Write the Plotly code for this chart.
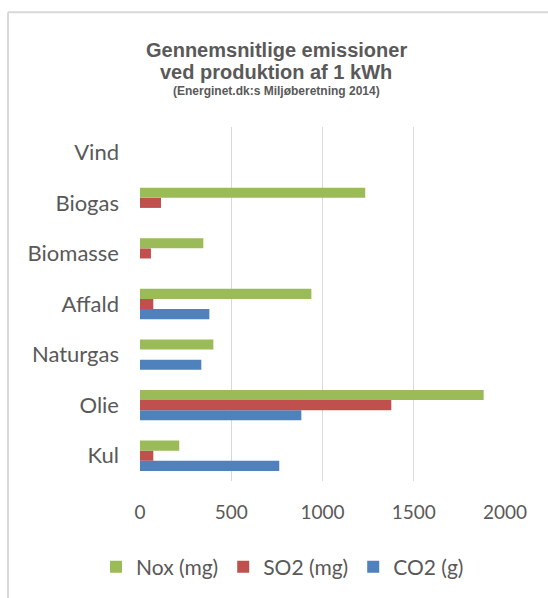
import plotly.graph_objects as go

categories = ["Kul", "Olie", "Naturgas", "Affald", "Biomasse", "Biogas", "Vind"]
nox_mg = [215, 1883, 402, 939, 347, 1234, 0]
so2_mg = [73, 1377, 0, 73, 60, 115, 0]
co2_g = [763, 884, 336, 380, 0, 0, 0]

x_ticks = [0, 500, 1000, 1500, 2000]

W, H = 548, 598
L, R, T, B = 140, 505, 127, 482
pw, ph = R - L, B - T

def px(x):
    return (x - L) / pw

def py(y):
    return (B - y) / ph

green = "#9BBB59"
red = "#C0504D"
blue = "#4F81BD"
txt = "#595959"
font_fam = "Lato, 'Open Sans', sans-serif"

fig = go.Figure()
fig.add_trace(go.Bar(y=categories, x=co2_g, orientation="h", name="CO2 (g)",
                     marker=dict(color=blue, line=dict(width=0))))
fig.add_trace(go.Bar(y=categories, x=so2_mg, orientation="h", name="SO2 (mg)",
                     marker=dict(color=red, line=dict(width=0))))
fig.add_trace(go.Bar(y=categories, x=nox_mg, orientation="h", name="Nox (mg)",
                     marker=dict(color=green, line=dict(width=0))))

fig.update_layout(
    width=W, height=H,
    margin=dict(l=L, r=W - R, t=T, b=H - B),
    paper_bgcolor="white", plot_bgcolor="white",
    barmode="group", bargap=0.4, bargroupgap=0,
    showlegend=True,
    legend=dict(orientation="h", traceorder="reversed", x=px(96), xanchor="left",
                y=py(567), yanchor="middle", font=dict(family=font_fam, size=21, color=txt),
                itemwidth=30, tracegroupgap=0, bgcolor="rgba(0,0,0,0)"),
    xaxis=dict(range=[0, 2000], tickvals=x_ticks, showgrid=True, gridcolor="#d9d9d9",
               gridwidth=1, zeroline=False, showline=False, ticks="",
               tickfont=dict(family=font_fam, size=19, color=txt), ticklabelstandoff=18),
    yaxis=dict(type="category", categoryorder="array", categoryarray=categories,
               showgrid=False, zeroline=False, showline=False, ticks="",
               tickfont=dict(family=font_fam, size=22, color=txt), ticklabelstandoff=20),
    font=dict(family=font_fam, color=txt),
)

ann = [
    ("<b>Gennemsnitlige emissioner</b>", 50, 20),
    ("<b>ved produktion af 1 kWh</b>", 72, 20),
    ("<b>(Energinet.dk:s Miljøberetning 2014)</b>", 91, 12),
]
for text, yy, size in ann:
    fig.add_annotation(text=text, x=px(276), y=py(yy), xref="paper", yref="paper",
                       showarrow=False, xanchor="center", yanchor="middle",
                       font=dict(family="'Liberation Sans', Arial, sans-serif", size=size, color=txt))

fig.add_shape(type="line", xref="paper", yref="paper", x0=px(8), x1=px(560), y0=py(12), y1=py(12),
              line=dict(color="#d9d9d9", width=2))
fig.add_shape(type="line", xref="paper", yref="paper", x0=px(8), x1=px(8), y0=py(12), y1=py(610),
              line=dict(color="#d9d9d9", width=2))

fig.write_html("out.html", config={"displayModeBar": False})

with open("out.html", "r", encoding="utf-8") as f:
    html = f.read()
html = html.replace("<body>", '<body style="margin:0;padding:0;overflow:hidden">', 1)
with open("out.html", "w", encoding="utf-8") as f:
    f.write(html)
